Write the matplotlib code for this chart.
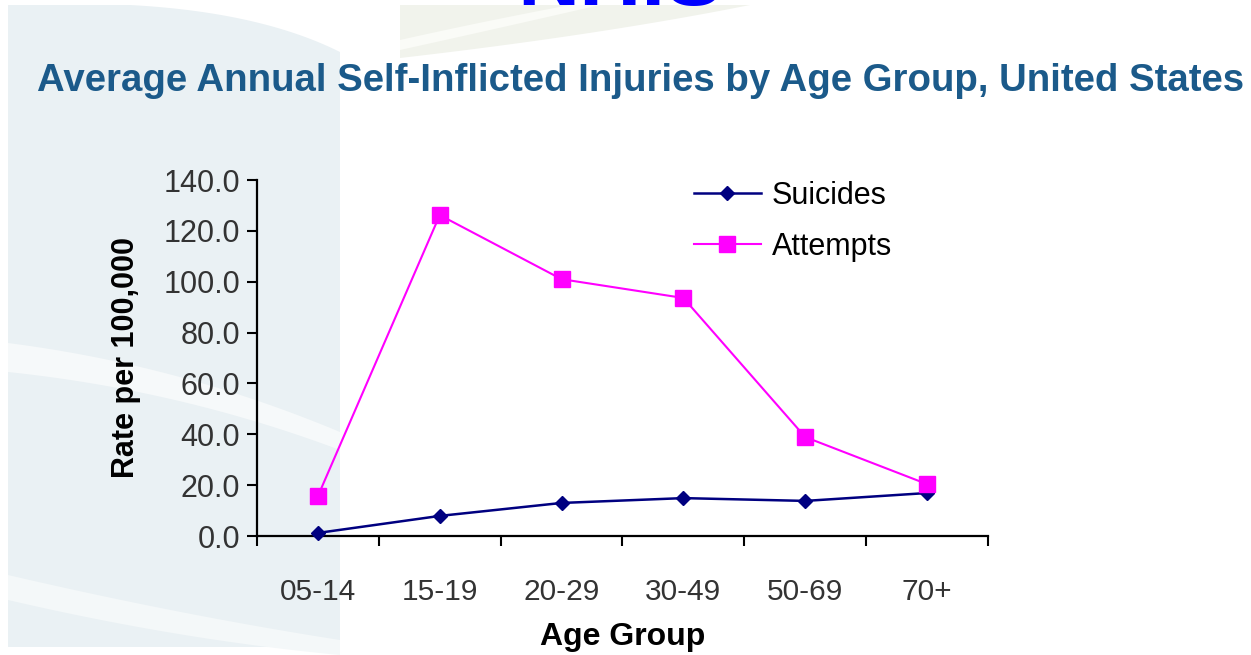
import matplotlib
matplotlib.use("Agg")
import matplotlib.pyplot as plt
import numpy as np
from matplotlib.patches import Polygon, Rectangle

# data
age_groups = ["05-14", "15-19", "20-29", "30-49", "50-69", "70+"]
suicides = [1.2, 7.9, 13.0, 14.9, 13.8, 16.9]
attempts = [15.7, 126.2, 101.0, 93.6, 38.9, 20.4]

W, H = 1251, 655
plt.rcParams['font.family'] = ['Liberation Sans', 'DejaVu Sans']

fig = plt.figure(figsize=(W / 100, H / 100), dpi=100)


def px(x, y):
    # pixel position -> figure fraction
    return (x / W, 1 - y / H)


def curve(p0, p1, p2, n=30):
    # quadratic bezier between pixel points
    t = np.linspace(0, 1, n)[:, None]
    p0, p1, p2 = np.array(p0), np.array(p1), np.array(p2)
    pts = (1 - t) ** 2 * p0 + 2 * (1 - t) * t * p1 + t ** 2 * p2
    return [px(x, y) for x, y in pts]


# background decoration (slide template)
fig.add_artist(Rectangle(px(8, 647), 332 / W, 642 / H, transform=fig.transFigure,
                         facecolor='#eaf1f4', edgecolor='none', zorder=0))
top_white = [px(130, 5)] + curve((130, 5), (260, 12), (340, 52)) + [px(340, 5)]
fig.add_artist(Polygon(top_white, closed=True, transform=fig.transFigure,
                       facecolor='white', edgecolor='none', zorder=0))
band1 = curve((8, 343), (180, 365), (340, 432)) + curve((340, 450), (180, 390), (8, 372))
fig.add_artist(Polygon(band1, closed=True, transform=fig.transFigure,
                       facecolor='#f6f9fa', edgecolor='none', zorder=0))
band2 = curve((8, 575), (180, 615), (340, 640)) + curve((340, 655), (180, 640), (8, 600))
fig.add_artist(Polygon(band2, closed=True, transform=fig.transFigure,
                       facecolor='#f4f8f9', edgecolor='none', zorder=0))
green = [px(400, 5), px(750, 5)] + curve((750, 5), (600, 35), (400, 58))
fig.add_artist(Polygon(green, closed=True, transform=fig.transFigure,
                       facecolor='#f1f3ec', edgecolor='none', zorder=0))
streak = curve((400, 40), (480, 22), (570, 5)) + curve((600, 5), (500, 28), (400, 50))
fig.add_artist(Polygon(streak, closed=True, transform=fig.transFigure,
                       facecolor='#fafbf7', edgecolor='none', zorder=0))

# slide heading, cut off at the top edge as in the source
fig.text(620 / W, 1 - 5 / H, "NHIS", color='#0000ff', fontsize=62,
         fontweight='bold', ha='center', va='baseline', zorder=3)

fig.text(641 / W, 1 - 91 / H,
         "Average Annual Self-Inflicted Injuries by Age Group, United States",
         color='#1b5a8a', fontsize=27.6, fontweight='bold', ha='center', va='baseline')

ax = fig.add_axes([257 / W, 1 - 536 / H, 731 / W, 356 / H])
ax.patch.set_alpha(0)
x = np.arange(len(age_groups))
ax.plot(x, suicides, color='#000080', lw=1.8, marker='D', ms=7.5,
        label='Suicides', clip_on=False, zorder=3)
ax.plot(x, attempts, color='#ff00ff', lw=1.5, marker='s', ms=11.5,
        label='Attempts', clip_on=False, zorder=3)

ax.set_xlim(-0.5, len(age_groups) - 0.5)
ax.set_ylim(0, 140)
ax.set_yticks(np.arange(0, 141, 20))
ax.set_yticklabels([f"{v:.1f}" for v in np.arange(0, 141, 20)])
ax.set_xticks(x)
ax.set_xticklabels(age_groups)
ax.set_xticks(np.arange(-0.5, len(age_groups)), minor=True)
ax.tick_params(axis='x', which='major', length=0, pad=30, labelsize=21.5, labelcolor='#333333')
ax.tick_params(axis='x', which='minor', length=7, width=1.5, direction='out', color='black')
ax.tick_params(axis='y', length=7, width=1.5, direction='out', pad=5,
               labelsize=22, labelcolor='#333333')
for s in ['top', 'right']:
    ax.spines[s].set_visible(False)
for s in ['left', 'bottom']:
    ax.spines[s].set_linewidth(1.6)

ax.set_ylabel("Rate per 100,000", fontsize=22, fontweight='bold', labelpad=16)
ax.set_xlabel("Age Group", fontsize=23, fontweight='bold', labelpad=12)

ax.legend(loc='upper left', bbox_to_anchor=(0.56, 1.075), frameon=False,
          fontsize=22, handlelength=2.2, handletextpad=0.35, labelspacing=0.68)

fig.savefig("out.png", dpi=100)
